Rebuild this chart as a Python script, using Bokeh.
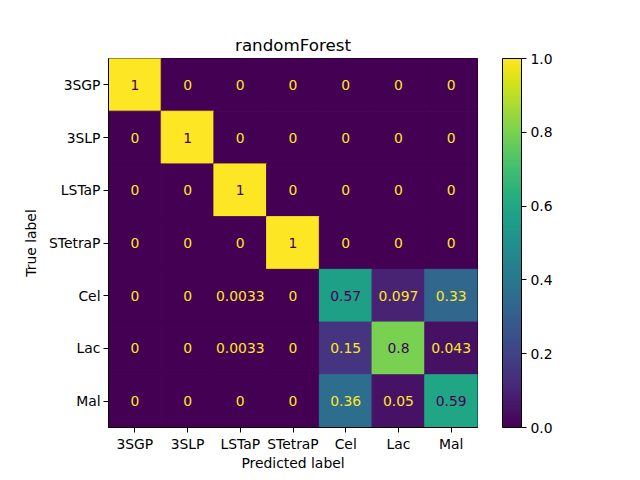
from bokeh.plotting import figure
from bokeh.models import ColumnDataSource, ColorBar, LinearColorMapper, FixedTicker
from bokeh.palettes import Viridis256
from bokeh.embed import file_html
from bokeh.resources import INLINE

# class names, same order on both axes
labels = ["3SGP", "3SLP", "LSTaP", "STetraP", "Cel", "Lac", "Mal"]

# normalized confusion matrix rows (true label -> predicted)
row_3sgp = [1, 0, 0, 0, 0, 0, 0]
row_3slp = [0, 1, 0, 0, 0, 0, 0]
row_lstap = [0, 0, 1, 0, 0, 0, 0]
row_stetrap = [0, 0, 0, 1, 0, 0, 0]
row_cel = [0, 0, 0.0033, 0, 0.57, 0.097, 0.33]
row_lac = [0, 0, 0.0033, 0, 0.15, 0.8, 0.043]
row_mal = [0, 0, 0, 0, 0.36, 0.05, 0.59]
rows = [row_3sgp, row_3slp, row_lstap, row_stetrap, row_cel, row_lac, row_mal]

FONT = "DejaVu Sans"
DARK = Viridis256[0]
LIGHT = Viridis256[-1]

xs, ys, vals, txt, tcol = [], [], [], [], []
for true_lab, row in zip(labels, rows):
    for pred_lab, v in zip(labels, row):
        xs.append(pred_lab)
        ys.append(true_lab)
        vals.append(v)
        txt.append(f"{v:.2g}")
        tcol.append(DARK if v >= 0.5 else LIGHT)

source = ColumnDataSource(data=dict(x=xs, y=ys, v=vals, t=txt, c=tcol))

mapper = LinearColorMapper(palette=Viridis256, low=0, high=1)

p = figure(frame_width=369, frame_height=369, x_range=labels, y_range=labels[::-1],
           title="randomForest", output_backend="svg", toolbar_location=None,
           x_axis_label="Predicted label", y_axis_label="True label")
p.min_border_left = 108
p.min_border_top = 58
p.min_border_bottom = 53
p.min_border_right = 10

cell_color = {"field": "v", "transform": mapper}
p.rect(x="x", y="y", width=1, height=1, source=source,
       fill_color=cell_color, line_color=cell_color, line_width=1)
p.text(x="x", y="y", text="t", source=source, text_color="c",
       text_align="center", text_baseline="middle",
       text_font_size="13.9px", text_font={"value": FONT})

p.grid.visible = False
p.outline_line_color = "black"
p.outline_line_width = 1
p.background_fill_color = "white"
p.border_fill_color = "white"

p.title.text_font = FONT
p.title.text_font_size = "16.7px"
p.title.text_font_style = "normal"
p.title.text_color = "black"
p.title.align = "center"
p.title.standoff = 8

for ax in (p.xaxis, p.yaxis):
    ax.major_label_text_font = FONT
    ax.major_label_text_font_size = "13.9px"
    ax.major_label_text_color = "black"
    ax.axis_label_text_font = FONT
    ax.axis_label_text_font_size = "13.9px"
    ax.axis_label_text_font_style = "normal"
    ax.axis_label_text_color = "black"
    ax.major_tick_out = 5
    ax.major_tick_in = 0
    ax.major_tick_line_color = "black"
    ax.major_label_standoff = 3
    ax.axis_line_color = "black"
p.xaxis.axis_label_standoff = 0
p.yaxis.axis_label_standoff = 7

color_bar = ColorBar(color_mapper=mapper, width=19, height=369,
                     ticker=FixedTicker(ticks=[0, 0.2, 0.4, 0.6, 0.8, 1.0]),
                     major_label_overrides={0: "0.0", 0.2: "0.2", 0.4: "0.4",
                                            0.6: "0.6", 0.8: "0.8", 1.0: "1.0"},
                     major_label_text_font=FONT, major_label_text_font_size="13.9px",
                     major_label_text_color="black",
                     major_tick_out=5, major_tick_in=0, major_tick_line_color="black",
                     bar_line_color="black", margin=0, padding=0,
                     label_standoff=4, location=(25, 0))
p.add_layout(color_bar, "right")

open("out.html", "w").write(file_html(p, INLINE))
